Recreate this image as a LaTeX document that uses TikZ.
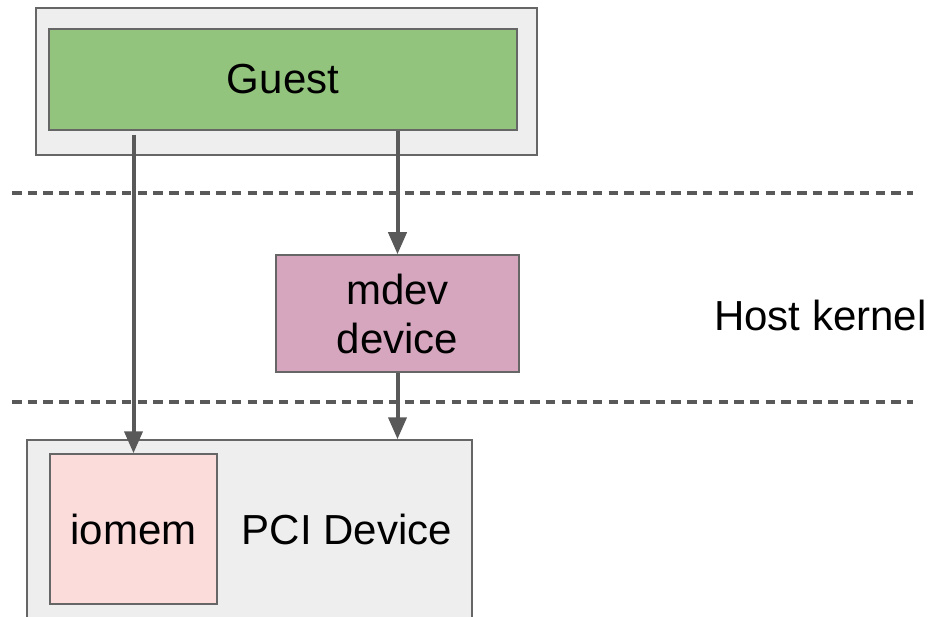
\documentclass[tikz,border=0pt]{standalone}
\usepackage{fontspec}
\setmainfont{Liberation Sans}
\usetikzlibrary{arrows.meta,positioning}
\usepackage{xcolor}
\definecolor{vmgray}{HTML}{EEEEEE}
\definecolor{edgegray}{HTML}{666666}
\definecolor{linegray}{HTML}{595959}
\definecolor{guestgreen}{HTML}{93C47D}
\definecolor{mdevpink}{HTML}{D5A6BD}
\definecolor{iomemrose}{HTML}{FCDBDB}
\tikzset{
    block/.style={
        draw=edgegray,line width=1.5pt,fill=#1,
        align=center,inner sep=0pt,font=\fontsize{42}{49}\selectfont
    },
    block/.default=vmgray,
    arrow/.style={
        -{Triangle[length=22pt,width=18pt]},line width=4pt,draw=linegray
    },
    border/.style={
        line width=4pt,draw=linegray,dash pattern=on 9.5pt off 6.2pt
    }
}

\begin{document}
\begin{tikzpicture}[x=1pt,y=-1pt]

\path[use as bounding box,clip](0,0)rectangle(933,617);

% guest side
\node[block,minimum width=501pt,minimum height=147pt] (vm) at (286.5,81.5) {};
\node[block=guestgreen,minimum width=468pt,minimum height=101pt] (guest) at (283,79.5) {Guest};

% host kernel layer
\draw[border] (12,193) coordinate (top l) -- (913,193) coordinate (top r);
\draw[border] (12,402) coordinate (bot l) -- (913,402) coordinate (bot r);
\node[block=mdevpink,minimum width=243pt,minimum height=117pt] (mdev) at (397.5,313.5) {mdev\\device};
\node[font=\fontsize{42}{49}\selectfont,anchor=east] (host) at (930,315) {Host kernel};

% hardware
\node[block,minimum width=445pt,minimum height=200pt] (pci) at (249.5,540) {};
\node[block=iomemrose,minimum width=167pt,minimum height=150pt] (iomem) at (133.5,529) {iomem};
\node[font=\fontsize{42}{49}\selectfont] (pcilabel) at (347,529) {PCI Device};

\draw[arrow] ([yshift=-4pt]guest.south -| iomem.north) -- (iomem.north);
\draw[arrow] (guest.south -| mdev.north) -- (mdev.north);
\draw[arrow] (mdev.south) -- (mdev.south |- pci.north);

\end{tikzpicture}
\end{document}
